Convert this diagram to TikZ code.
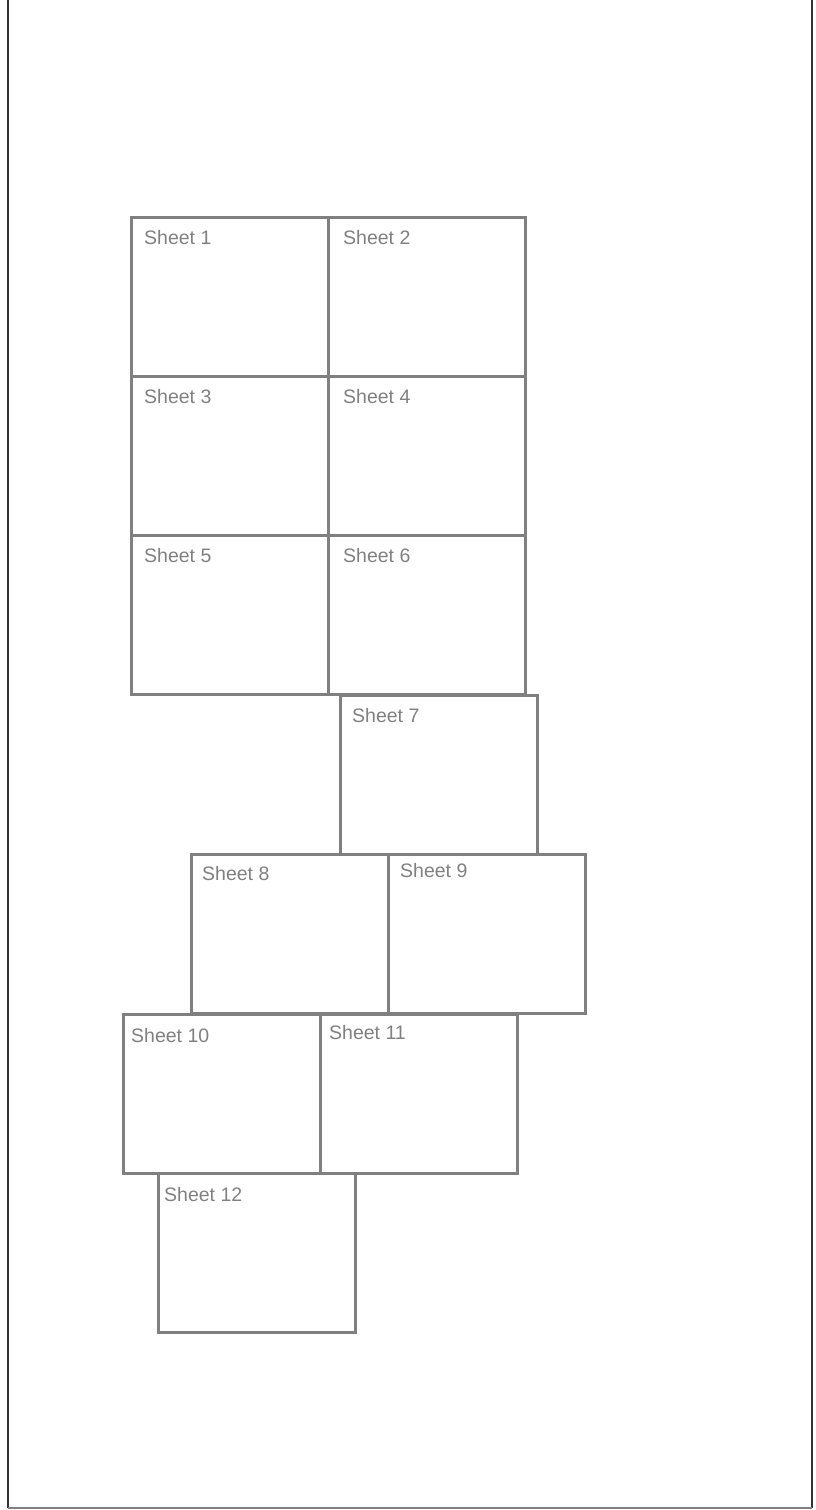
\documentclass[tikz,border=0pt]{standalone}
\usepackage{fontspec}
\setmainfont{Liberation Sans}
\usepackage{tikz}

\definecolor{sheetgray}{HTML}{808080}
\definecolor{framedark}{HTML}{333333}

\tikzset{
  sheet/.style={draw=sheetgray, line width=2.8pt, minimum width=197pt,
    minimum height=159pt, inner sep=0pt, anchor=north west},
  sheetlabel/.style={text=sheetgray, font=\fontsize{19.5}{21}\selectfont,
    anchor=base west, inner sep=0pt}
}

\begin{document}
\begin{tikzpicture}[x=1pt, y=-1pt]
      \useasboundingbox (0,0) rectangle (815,1510);
      % Page frame
      \draw[framedark, line width=1.5pt] (8,0) -- (8,1508);
      \draw[framedark, line width=1.5pt] (812,0) -- (812,1508);
      \draw[sheetgray, line width=2.5pt] (8,1508) -- (812,1508);

      % Sheets, top block
      \node[sheet] (s1) at (130,216) {};
      \node[sheet] (s2) at (327,216) {};
      \node[sheet] (s3) at (130,375) {};
      \node[sheet] (s4) at (327,375) {};
      \node[sheet] (s5) at (130,534) {};
      \node[sheet] (s6) at (327,534) {};
      % Sheets, lower rows
      \node[sheet] (s7) at (339,694) {};
      \node[sheet] (s8) at (190,853) {};
      \node[sheet] (s9) at (387,853) {};
      \node[sheet] (s10) at (122,1013) {};
      \node[sheet] (s11) at (319,1013) {};
      \node[sheet] (s12) at (157,1172) {};

      % Label sheets
      \node[sheetlabel] (l1) at (144,244) {Sheet 1};
      \node[sheetlabel] (l2) at (343,244) {Sheet 2};
      \node[sheetlabel] (l3) at (144,403) {Sheet 3};
      \node[sheetlabel] (l4) at (343,403) {Sheet 4};
      \node[sheetlabel] (l5) at (144,562) {Sheet 5};
      \node[sheetlabel] (l6) at (343,562) {Sheet 6};
      \node[sheetlabel] (l7) at (352,722) {Sheet 7};
      \node[sheetlabel] (l8) at (202,880) {Sheet 8};
      \node[sheetlabel] (l9) at (400,877) {Sheet 9};
      \node[sheetlabel] (l10) at (131,1042) {Sheet 10};
      \node[sheetlabel] (l11) at (329,1039) {Sheet 11};
      \node[sheetlabel] (l12) at (164,1201) {Sheet 12};
    \end{tikzpicture}
\end{document}
